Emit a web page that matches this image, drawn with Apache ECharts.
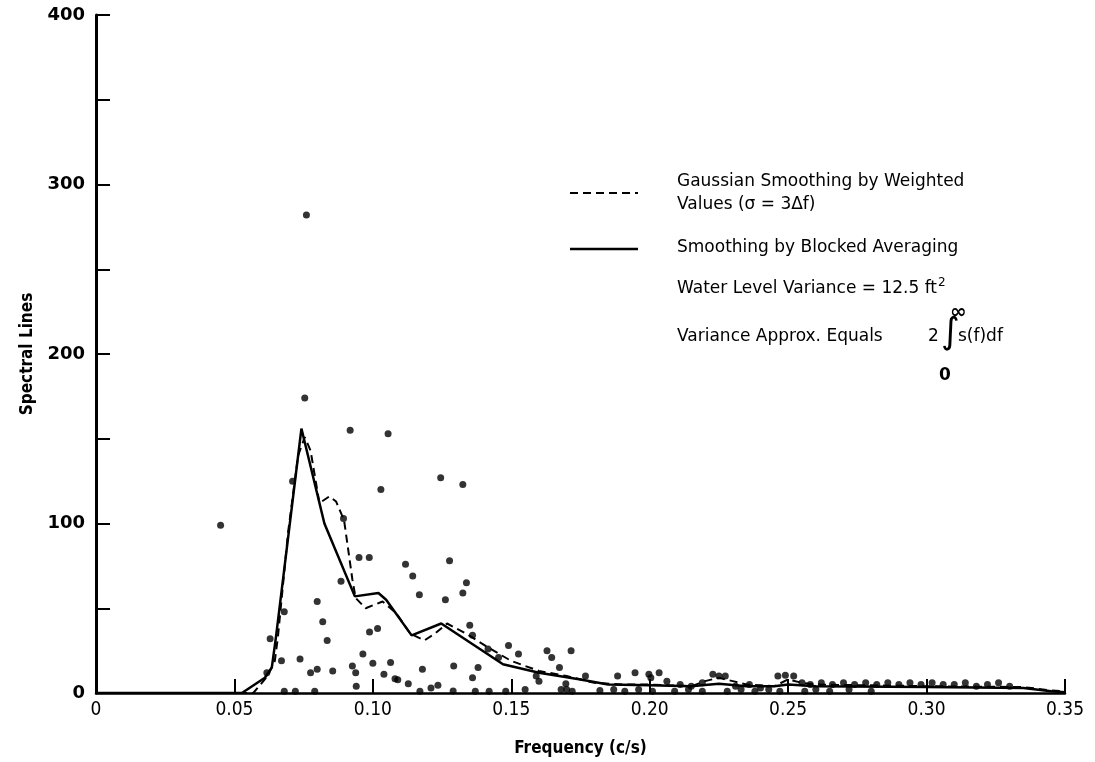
<!DOCTYPE html>
<html>
<head>
<meta charset="utf-8">
<script src="https://cdn.jsdelivr.net/npm/echarts@6/dist/echarts.min.js"></script>
<style>
  html, body { margin: 0; padding: 0; background: #fff; }
  #chart { width: 1095px; height: 762px; }
</style>
</head>
<body>
<div id="chart"></div>
<script>
// Frequency ticks (c/s) and spectral-density ticks
const xTicks = [0, 0.05, 0.10, 0.15, 0.20, 0.25, 0.30, 0.35];
const yTicks = [0, 100, 200, 300, 400];

// Gaussian smoothing by weighted values (sigma = 3 df): [frequency, value]
const gaussianSmoothed = [
  [0, 0], [0.0568, 0], [0.062, 10], [0.0646, 19], [0.0657, 33], [0.0694, 95],
  [0.073, 140], [0.0754, 151], [0.0775, 143], [0.0807, 112], [0.0843, 116],
  [0.0867, 113], [0.0896, 102], [0.0926, 67], [0.0938, 56], [0.0974, 50],
  [0.1035, 54], [0.1085, 47], [0.1135, 35], [0.1186, 31], [0.1224, 35],
  [0.1268, 41], [0.1337, 35], [0.1425, 26], [0.1499, 19], [0.16, 13],
  [0.17, 10], [0.18, 6], [0.19, 5], [0.20, 5], [0.215, 4], [0.22, 7],
  [0.225, 9], [0.23, 7], [0.235, 5], [0.245, 4], [0.25, 8], [0.255, 6],
  [0.26, 5], [0.30, 4], [0.335, 3.5], [0.345, 1.5], [0.35, 1]
];

// Smoothing by blocked averaging: [frequency, value]
const blockAveraged = [
  [0, 0], [0.0527, 0], [0.061, 9], [0.0635, 15], [0.065, 33], [0.0742, 156],
  [0.0825, 100], [0.0935, 57], [0.102, 59], [0.1048, 55], [0.114, 34],
  [0.1247, 41], [0.147, 17], [0.16, 12], [0.175, 8], [0.185, 5], [0.20, 4.5],
  [0.215, 4], [0.225, 5.5], [0.235, 4], [0.245, 4], [0.25, 5], [0.26, 4],
  [0.30, 3.5], [0.335, 3], [0.345, 1], [0.35, 0.5]
];

// Raw spectral lines: [frequency, value]
const spectralLines = [
  [0.045, 99], [0.076, 282], [0.0754, 174], [0.0918, 155], [0.1055, 153],
  [0.1245, 127], [0.1325, 123], [0.1029, 120], [0.0894, 103], [0.071, 125],
  [0.095, 80], [0.0987, 80], [0.1118, 76], [0.1277, 78], [0.1144, 69],
  [0.1338, 65], [0.1325, 59], [0.0885, 66], [0.1168, 58], [0.1262, 55],
  [0.0799, 54], [0.0819, 42], [0.0835, 31], [0.135, 40], [0.136, 34],
  [0.0988, 36], [0.1017, 38], [0.149, 28], [0.1416, 26], [0.1454, 21],
  [0.0964, 23], [0.067, 19], [0.0737, 20], [0.0629, 32], [0.068, 48],
  [0.1064, 18], [0.1, 17.5], [0.0926, 16], [0.0855, 13], [0.0799, 14],
  [0.0775, 12], [0.1179, 14], [0.1292, 16], [0.138, 15], [0.104, 11],
  [0.0938, 12], [0.0617, 12], [0.094, 4], [0.108, 8.4], [0.109, 7.8],
  [0.1128, 5.4], [0.136, 9], [0.121, 3], [0.1235, 4.5], [0.129, 1.2],
  [0.1526, 23], [0.1629, 25], [0.1646, 21], [0.1716, 25], [0.1674, 15],
  [0.159, 10], [0.160, 7], [0.1697, 5.4], [0.17, 2], [0.1768, 10],
  [0.1884, 10], [0.1947, 12], [0.1997, 11], [0.2004, 9], [0.2034, 12],
  [0.2062, 7], [0.211, 5], [0.215, 4], [0.219, 6], [0.2228, 11], [0.225, 10],
  [0.2273, 10], [0.231, 4], [0.236, 5], [0.240, 3], [0.2463, 10], [0.249, 10.4],
  [0.252, 10], [0.255, 6], [0.258, 5], [0.262, 6], [0.266, 5], [0.270, 6],
  [0.274, 5], [0.278, 6], [0.282, 5], [0.286, 6], [0.290, 5], [0.294, 6],
  [0.298, 5], [0.302, 6], [0.306, 5], [0.310, 5], [0.314, 6], [0.318, 4],
  [0.322, 5], [0.326, 6], [0.330, 4],
  [0.068, 1], [0.072, 1], [0.079, 1], [0.117, 1], [0.137, 1], [0.142, 1],
  [0.148, 1], [0.155, 2], [0.168, 2], [0.172, 1], [0.182, 1.5], [0.187, 2],
  [0.191, 1], [0.196, 2], [0.201, 1], [0.209, 1], [0.214, 2], [0.219, 1],
  [0.228, 1], [0.233, 2], [0.238, 1], [0.243, 2], [0.247, 1], [0.256, 1],
  [0.26, 2], [0.265, 1], [0.272, 2], [0.28, 1]
];

const seriesNames = [
  'Gaussian Smoothing by Weighted Values (\u03C3 = 3\u0394f)',
  'Smoothing by Blocked Averaging'
];

const INK = '#000';
const FONT = '"DejaVu Sans", sans-serif';
const COND = '"DejaVu Sans Condensed", "DejaVu Sans", sans-serif';
const NOTE = { fontFamily: FONT, fontSize: 17, fill: INK };

const chart = echarts.init(document.getElementById('chart'), null, { renderer: 'canvas' });

chart.setOption({
  backgroundColor: '#fff',
  animation: false,
  grid: { left: 96, right: 30, top: 15, bottom: 64, containLabel: false },
  xAxis: {
    type: 'value',
    min: 0, max: 0.35, interval: 0.05,
    name: 'Frequency (c/s)',
    nameLocation: 'middle',
    nameGap: 47,
    nameTextStyle: { color: INK, fontFamily: COND, fontSize: 17, fontWeight: 'bold' },
    axisLine: { lineStyle: { color: INK, width: 2.5 } },
    axisTick: { inside: true, length: 14, lineStyle: { color: INK, width: 2 } },
    axisLabel: {
      color: INK, fontFamily: COND, fontSize: 19, margin: 8,
      formatter: v => (v === 0 ? '0' : v.toFixed(2))
    },
    splitLine: { show: false }
  },
  yAxis: {
    type: 'value',
    min: 0, max: 400, interval: 50,
    name: 'Spectral Lines',
    nameLocation: 'middle',
    nameGap: 56,
    nameTextStyle: { color: INK, fontFamily: COND, fontSize: 17, fontWeight: 'bold' },
    axisLine: { lineStyle: { color: INK, width: 3 } },
    axisTick: { inside: true, length: 14, lineStyle: { color: INK, width: 2 } },
    axisLabel: {
      color: INK, fontFamily: FONT, fontSize: 18, fontWeight: 'bold', margin: 11,
      formatter: v => (yTicks.indexOf(v) >= 0 ? String(v) : '')
    },
    splitLine: { show: false }
  },
  series: [
    {
      name: seriesNames[0], type: 'line', data: gaussianSmoothed,
      symbol: 'none', z: 3,
      lineStyle: { color: INK, width: 2, type: [8, 5] }
    },
    {
      name: seriesNames[1], type: 'line', data: blockAveraged,
      symbol: 'none', z: 4,
      lineStyle: { color: INK, width: 2.5 }
    },
    {
      name: 'Spectral Lines', type: 'scatter', data: spectralLines,
      symbol: 'circle', symbolSize: 7, z: 5,
      itemStyle: { color: INK }
    }
  ],
  // Key and variance notes
  graphic: [
    {
      type: 'line', shape: { x1: 570, y1: 193, x2: 638, y2: 193 },
      style: { stroke: INK, lineWidth: 2, lineDash: [8, 5] }
    },
    {
      type: 'line', shape: { x1: 570, y1: 249, x2: 638, y2: 249 },
      style: { stroke: INK, lineWidth: 2.5 }
    },
    {
      type: 'text', left: 677, top: 170,
      style: Object.assign({ text: 'Gaussian Smoothing by Weighted\nValues (\u03C3 = 3\u0394f)', lineHeight: 23 }, NOTE)
    },
    {
      type: 'text', left: 677, top: 239,
      style: Object.assign({ text: 'Smoothing by Blocked Averaging' }, NOTE)
    },
    {
      type: 'text', left: 677, top: 277,
      style: {
        text: '{t|Water Level Variance = 12.5 ft}{s|2}',
        rich: {
          t: { fontFamily: FONT, fontSize: 17, fill: INK, lineHeight: 26 },
          s: { fontFamily: FONT, fontSize: 12, fill: INK, lineHeight: 26, padding: [0, 0, 11, 1] }
        }
      }
    },
    {
      type: 'text', left: 677, top: 328,
      style: Object.assign({ text: 'Variance Approx. Equals' }, NOTE)
    },
    {
      type: 'text', left: 928, top: 328,
      style: Object.assign({ text: '2' }, NOTE)
    },
    {
      type: 'text', left: 941, top: 316,
      style: { text: '\u222B', fontFamily: FONT, fontSize: 36, fill: INK }
    },
    {
      type: 'text', left: 950, top: 303,
      style: { text: '\u221E', fontFamily: FONT, fontSize: 20, fill: INK, fontWeight: 'bold' }
    },
    {
      type: 'text', left: 939, top: 367,
      style: { text: '0', fontFamily: FONT, fontSize: 17, fill: INK, fontWeight: 'bold' }
    },
    {
      type: 'text', left: 958, top: 328,
      style: Object.assign({ text: 's(f)df' }, NOTE)
    }
  ]
});
</script>
</body>
</html>
